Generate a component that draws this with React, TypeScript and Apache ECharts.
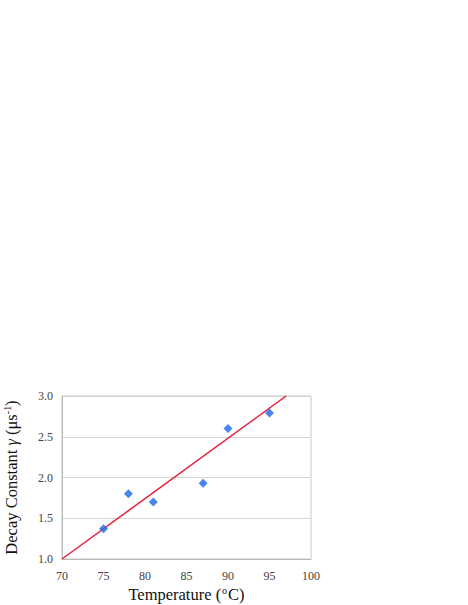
import React, { useEffect, useRef } from "react";
import * as echarts from "echarts";

const temperatures = [75, 78, 81, 87, 90, 95];
const decayConstants = [1.37, 1.8, 1.7, 1.93, 2.6, 2.79];
const fitLineX = [70, 97];
const fitLineY = [1.0, 3.0];

export default function App() {
  const ref = useRef<HTMLDivElement>(null);
  useEffect(() => {
    if (!ref.current) return;
    const chart = echarts.init(ref.current, null, { renderer: "svg" });
    const serif = "'Liberation Serif', 'DejaVu Serif', serif";
    chart.setOption({
      animation: false,
      backgroundColor: "#ffffff",
      grid: {
        left: 62,
        right: 157,
        top: 396,
        bottom: 46,
        show: true,
        borderColor: "#c8c8c8",
        borderWidth: 1,
        containLabel: false,
        outerBoundsMode: "none",
      },
      xAxis: {
        type: "value",
        min: 70,
        max: 100,
        interval: 5,
        name: "{t|Temperature (}{s|o}{t|C)}",
        nameLocation: "middle",
        nameGap: 26,
        nameMoveOverlap: false,
        nameTextStyle: {
          rich: {
            t: { fontFamily: serif, fontSize: 16.5, color: "#111" },
            s: { fontFamily: serif, fontSize: 10, color: "#111", verticalAlign: "top", padding: [0, 1, 8, 1] },
          },
        },
        axisLine: { show: true, lineStyle: { color: "#b8b8b8" } },
        axisTick: { show: false },
        splitLine: { show: false },
        axisLabel: { fontFamily: serif, fontSize: 12, color: "#444", margin: 11 },
      },
      yAxis: {
        type: "value",
        min: 1.0,
        max: 3.0,
        interval: 0.5,
        name: "{t|Decay Constant }{g|γ}{t| (μs}{s|-1}{t|)}",
        nameLocation: "middle",
        nameGap: 42,
        nameRotate: 90,
        nameMoveOverlap: false,
        nameTextStyle: {
          rich: {
            t: { fontFamily: serif, fontSize: 16.5, color: "#111" },
            g: { fontFamily: serif, fontSize: 16.5, color: "#111", fontStyle: "italic" },
            s: { fontFamily: serif, fontSize: 10, color: "#111", verticalAlign: "top", padding: [0, 0, 8, 0] },
          },
        },
        axisLine: { show: true, lineStyle: { color: "#b8b8b8" } },
        axisTick: { show: false },
        splitLine: { show: true, lineStyle: { color: "#d4d4d4" } },
        axisLabel: {
          fontFamily: serif,
          fontSize: 12,
          color: "#444",
          margin: 9,
          formatter: (v: number) => v.toFixed(1),
        },
      },
      series: [
        {
          type: "line",
          data: fitLineX.map((x, i) => [x, fitLineY[i]]),
          showSymbol: false,
          symbol: "none",
          lineStyle: { color: "#e8203c", width: 1.5 },
          z: 2,
        },
        {
          type: "scatter",
          data: temperatures.map((t, i) => [t, decayConstants[i]]),
          symbol: "diamond",
          symbolSize: 9,
          itemStyle: { color: "#1c66e6" },
          z: 3,
        },
      ],
    });
    return () => chart.dispose();
  }, []);
  return <div ref={ref} style={{ width: 468, height: 605, position: "absolute", left: 0, top: 0 }} />;
}
